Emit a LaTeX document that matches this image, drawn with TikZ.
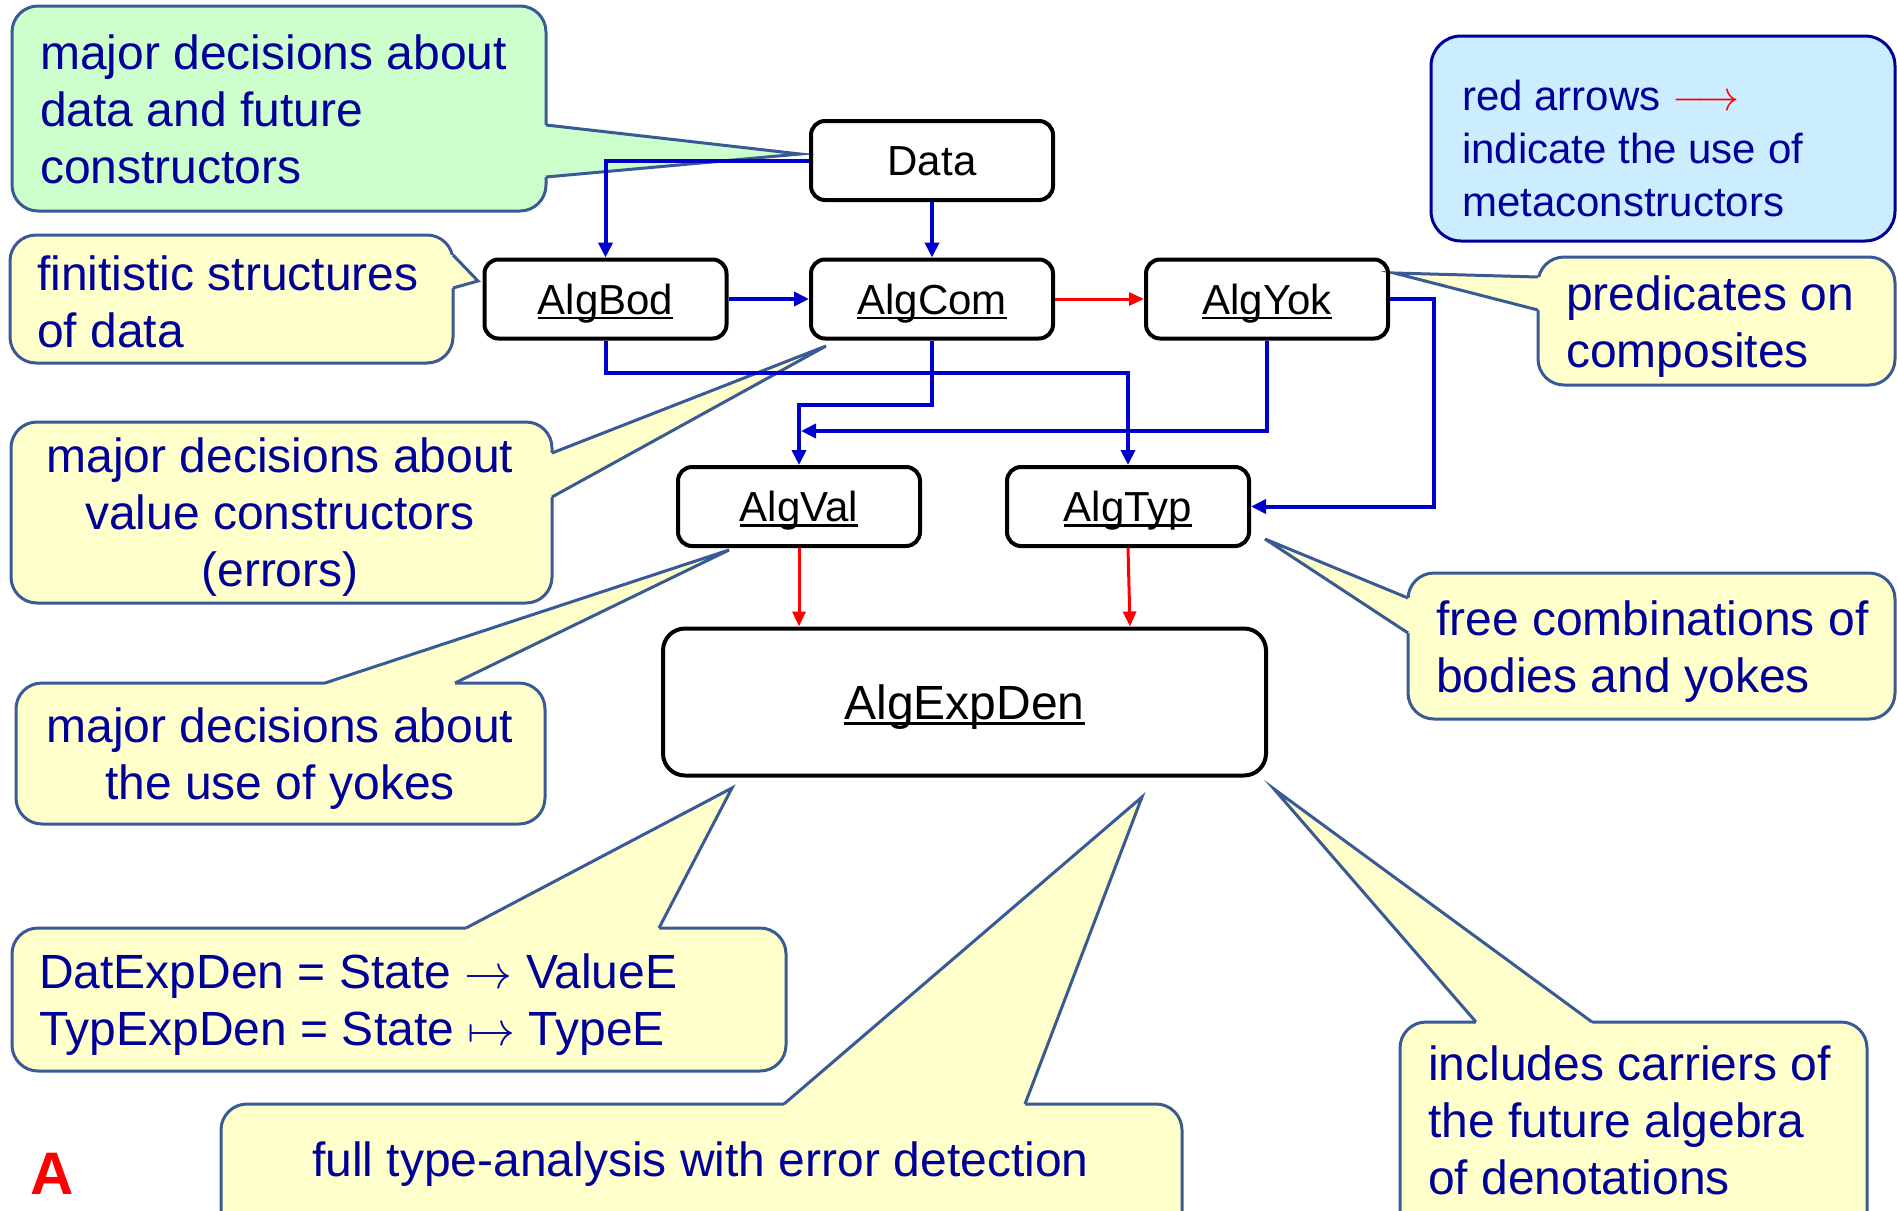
\documentclass[tikz,border=0pt]{standalone}
\usepackage{fix-cm}
\usepackage{fontspec}
\setmainfont{Liberation Sans}
\usetikzlibrary{arrows.meta,calc}
\definecolor{navy}{RGB}{0,0,153}
\definecolor{conblue}{RGB}{0,0,204}
\definecolor{callyel}{RGB}{255,255,204}
\definecolor{callgreen}{RGB}{204,255,204}
\definecolor{callblue}{RGB}{204,236,255}
\definecolor{callborder}{RGB}{58,90,150}
\newcommand{\myul}[1]{\setbox0\hbox{#1}\rlap{\rule[-0.13em]{\wd0}{0.07em}}\box0}
\newcommand{\ptr}[5]{%
  \fill[#1] ($#2+#5$) -- #2 -- #3 -- #4 -- ($#4+#5$) -- cycle;
  \draw[callborder, line width=3pt] #2 -- #3 -- #4;}
\tikzset{
  algbox/.style={draw=black, line width=4pt, rounded corners=14pt, minimum width=242pt,
    minimum height=79pt, inner sep=0pt, text height=30pt, text depth=0pt,
    font=\fontsize{42}{50}\selectfont},
  conn/.style={draw=conblue, line width=4pt, -{Triangle[length=15pt,width=14pt]}},
  metaconn/.style={draw=red, line width=3pt, -{Triangle[length=15pt,width=13pt]}},
  callbox/.style={fill=callyel, draw=callborder, line width=3pt, rounded corners=26pt},
  calltext/.style={text=navy, inner sep=0pt, font=\fontsize{48}{57}\selectfont},
}
\begin{document}
\begin{tikzpicture}[x=1pt, y=-1pt]
\useasboundingbox (0,0) rectangle (1897,1210);
\clip (0,0) rectangle (1897,1210);

% ---- callout shapes ----
\draw[callbox, fill=callgreen] (12,6) rectangle (546,211);
\ptr{callgreen}{(546,125)}{(800,154)}{(546,177)}{(-7,0)}

\draw[callbox] (10,235) rectangle (453,363);
\ptr{callyel}{(453,255)}{(478,281)}{(453,288)}{(-7,0)}

\draw[callbox] (11,422) rectangle (552,603);
\ptr{callyel}{(552,453)}{(826,346)}{(552,497)}{(-7,0)}

\draw[callbox] (16,683) rectangle (545,824);
\ptr{callyel}{(325,683)}{(729,550)}{(455,683)}{(0,7)}

\draw[callbox] (12,928) rectangle (786,1071);
\ptr{callyel}{(466,928)}{(732,788)}{(659,928)}{(0,7)}

\draw[callbox] (221,1104) rectangle (1182,1260);
\ptr{callyel}{(784,1104)}{(1142,797)}{(1025,1104)}{(0,7)}

\draw[callbox] (1400,1022) rectangle (1867,1260);
\ptr{callyel}{(1476,1022)}{(1274,789)}{(1592,1022)}{(0,7)}

\draw[callbox] (1408,573) rectangle (1895,719);
\ptr{callyel}{(1408,598)}{(1265,539)}{(1408,633)}{(7,0)}

\draw[callbox] (1538,257) rectangle (1895,385);
\ptr{callyel}{(1538,277)}{(1394,273)}{(1538,310)}{(7,0)}

\draw[fill=callblue, draw=navy, line width=3pt, rounded corners=30pt] (1431,36) rectangle (1895,241);

% ---- callout texts ----
\node[calltext, anchor=base west] (tGreen) at (40,69)
  {\begin{tabular}[t]{@{}l@{}}major decisions about\\data and future\\constructors\end{tabular}};
\node[calltext, anchor=base west] (tFin) at (37,290)
  {\begin{tabular}[t]{@{}l@{}}finitistic structures\\of data\end{tabular}};
\node[calltext, anchor=base] (tVal) at (280,472)
  {\begin{tabular}[t]{@{}c@{}}major decisions about\\value constructors\\(errors)\end{tabular}};
\node[calltext, anchor=base] (tYok) at (280,742)
  {\begin{tabular}[t]{@{}c@{}}major decisions about\\the use of yokes\end{tabular}};
\node[calltext, anchor=base west] (tDen) at (39,988)
  {\begin{tabular}[t]{@{}l@{}}DatExpDen = State $\rightarrow$ ValueE\\TypExpDen = State $\mapsto$ TypeE\end{tabular}};
\node[calltext, anchor=base west] (tFull) at (312,1176) {full type-analysis with error detection};
\node[calltext, anchor=base west] (tInc) at (1428,1080)
  {\begin{tabular}[t]{@{}l@{}}includes carriers of\\the future algebra\\of denotations\end{tabular}};
\node[calltext, anchor=base west] (tFree) at (1436,635)
  {\begin{tabular}[t]{@{}l@{}}free combinations of\\bodies and yokes\end{tabular}};
\node[calltext, anchor=base west] (tPred) at (1566,310)
  {\begin{tabular}[t]{@{}l@{}}predicates on\\composites\end{tabular}};
\node[calltext, anchor=base west, font=\fontsize{42}{53}\selectfont] (tRed) at (1462,110)
  {\begin{tabular}[t]{@{}l@{}}red arrows {\color{red}$\longrightarrow$}\\indicate the use of\\metaconstructors\end{tabular}};

\node[text=red, inner sep=0pt, anchor=base west, font=\fontsize{60}{68}\selectfont\bfseries] (mA) at (30,1194) {A};

% ---- algebra boxes ----
\node[algbox] (Data) at (932,160.5) {Data};
\node[algbox] (AlgBod) at (605.5,299) {\myul{AlgBod}};
\node[algbox] (AlgCom) at (932,299) {\myul{AlgCom}};
\node[algbox] (AlgYok) at (1267,299) {\myul{AlgYok}};
\node[algbox] (AlgVal) at (799,506.5) {\myul{AlgVal}};
\node[algbox] (AlgTyp) at (1128,506.5) {\myul{AlgTyp}};
\node[algbox, minimum width=603pt, minimum height=147pt, rounded corners=22pt,
  text height=34pt, font=\fontsize{48}{57}\selectfont] (AlgExpDen) at (964.5,702) {\myul{AlgExpDen}};

% ---- connectors ----
\draw[conn] (Data.west) -| (AlgBod.north);
\draw[conn] (Data.south) -- (AlgCom.north);
\draw[conn] (AlgBod.east) -- (AlgCom.west);
\draw[metaconn] (AlgCom.east) -- (AlgYok.west);
\draw[conn] (AlgBod.south) -- ++(0,32) -| (AlgTyp.north);
\draw[conn] (AlgCom.south) -- ++(0,64) -| (AlgVal.north);
\coordinate (valjoin) at ($(AlgVal.north |- 0,431)+(2,0)$);
\draw[conn] (AlgYok.south) |- (valjoin);
\draw[conn] (AlgYok.east) -- ++(44,0) |- (AlgTyp.east);
\draw[metaconn] (AlgVal.south) -- (AlgVal.south |- AlgExpDen.north);
\draw[metaconn] (AlgTyp.south) -- ($(AlgTyp.south |- AlgExpDen.north)+(2,0)$);
\end{tikzpicture}
\end{document}
